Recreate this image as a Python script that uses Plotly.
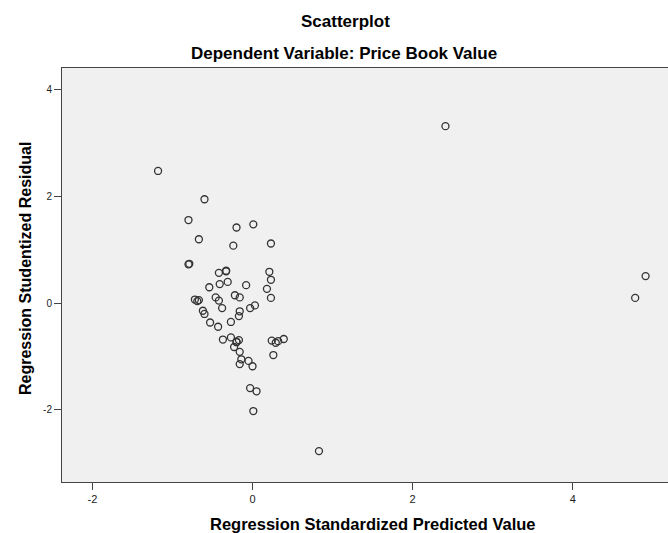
import plotly.graph_objects as go

# Regression Standardized Predicted Value
pred = [-1.18, 2.41, -0.60, -0.80, -0.20, 0.01, -0.67, -0.24, 0.23, -0.80, -0.79,
        -0.42, -0.33, -0.33, 0.21, 0.23, -0.54, -0.41, -0.31, -0.08, 0.18, 0.23,
        -0.72, -0.69, -0.67, -0.46, -0.42, -0.22, -0.16, -0.38, -0.62, -0.60,
        -0.16, -0.17, -0.03, 0.03, -0.53, -0.43, -0.27, -0.37, -0.27, -0.23,
        -0.20, -0.20, -0.17, -0.16, -0.14, -0.16, -0.05, 0.00, 0.24, 0.29, 0.32,
        0.39, 0.26, -0.03, 0.05, 0.01, 0.83, 4.91, 4.78]
# Regression Studentized Residual
resid = [2.48, 3.32, 1.95, 1.56, 1.42, 1.48, 1.20, 1.08, 1.12, 0.73, 0.74,
         0.57, 0.60, 0.61, 0.59, 0.44, 0.30, 0.36, 0.40, 0.34, 0.27, 0.10,
         0.07, 0.04, 0.06, 0.11, 0.05, 0.15, 0.11, -0.09, -0.14, -0.20,
         -0.15, -0.24, -0.09, -0.04, -0.36, -0.44, -0.35, -0.68, -0.64, -0.82,
         -0.72, -0.73, -0.69, -0.91, -1.05, -1.14, -1.08, -1.18, -0.70, -0.74, -0.71,
         -0.67, -0.97, -1.59, -1.65, -2.02, -2.77, 0.51, 0.10]

x_ticks = [-2, 0, 2, 4]
x_tick_labels = ["-2", "0", "2", "4"]
y_ticks = [-2, 0, 2, 4]
y_tick_labels = ["-2", "0", "2", "4"]

fig = go.Figure()
fig.add_trace(go.Scatter(
    x=pred, y=resid, mode="markers",
    marker=dict(symbol="circle-open", size=7, color="#333333",
                line=dict(width=1.3, color="#333333")),
    showlegend=False, hoverinfo="x+y"))

font = "Liberation Sans, Arial, sans-serif"
L, T, B, W, H = 62, 68, 482, 668, 533
fig.update_layout(
    width=W, height=H,
    margin=dict(l=L, r=0, t=T, b=H - B),
    paper_bgcolor="white", plot_bgcolor="#f0f0f0",
    font=dict(family=font, color="#000000"),
    xaxis=dict(range=[-2.38, 5.19], tickvals=x_ticks, ticktext=x_tick_labels,
               showgrid=False, zeroline=False, showline=True, mirror=True,
               linecolor="#444444", linewidth=1, ticks="outside", ticklen=7,
               tickcolor="#444444", tickfont=dict(size=11, color="#222222")),
    yaxis=dict(range=[-3.35, 4.41], tickvals=y_ticks, ticktext=y_tick_labels,
               showgrid=False, zeroline=False, showline=True, mirror=True,
               linecolor="#444444", linewidth=1, ticks="outside", ticklen=7,
               tickcolor="#444444", tickfont=dict(size=10, color="#222222")),
)

def px_to_paper_x(px):
    return (px - L) / float(W - L)

def px_to_paper_y(py):
    return (B - py) / float(B - T)

def add_text(text, px, py, size, angle=0):
    fig.add_annotation(text=text, x=px_to_paper_x(px), y=px_to_paper_y(py),
                       xref="paper", yref="paper", showarrow=False,
                       xanchor="center", yanchor="middle", textangle=angle,
                       font=dict(size=size, color="#000000"))

add_text("<b>Scatterplot</b>", 345, 22, 17)
add_text("<b>Dependent Variable: Price Book Value</b>", 344, 53, 17)
add_text("<b>Regression Standardized Predicted Value</b>", 373, 524, 16.5)
add_text("<b>Regression Studentized Residual</b>", 25, 269, 16, angle=-90)

fig.write_html("out.html", config={"displayModeBar": False},
               post_script="document.body.style.margin='0px';")
